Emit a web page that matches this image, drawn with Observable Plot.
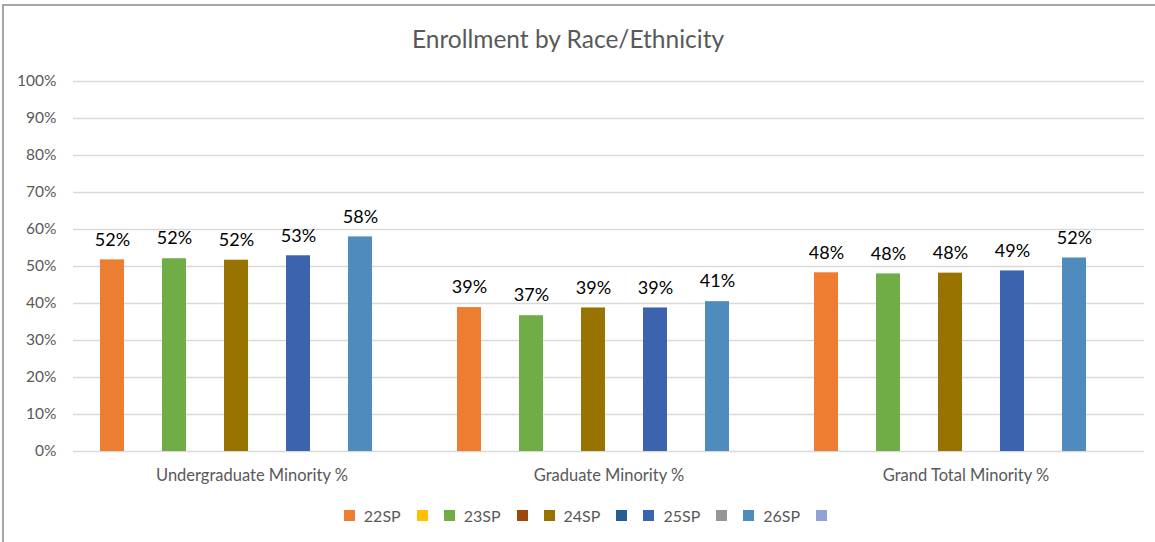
<!DOCTYPE html>
<html>
<head>
<meta charset="utf-8">
<script src="https://cdn.jsdelivr.net/npm/d3@7"></script>
<script src="https://cdn.jsdelivr.net/npm/@observablehq/plot@0.6"></script>
<style>
  body { margin: 0; background: #fff; font-family: Lato, "Open Sans", sans-serif; }
  #chart { position: relative; width: 1155px; height: 542px; overflow: hidden; background: #fff; }
  #frame { position: absolute; left: 2px; top: 4px; width: 1200px; height: 600px;
           border-top: 2px solid #a6a6a6; border-left: 2px solid #a6a6a6; box-sizing: border-box; }
  #title { position: absolute; top: 24px; left: 0; width: 1136px; text-align: center;
           font-size: 24.5px; color: #595959; }
  #plot { position: absolute; left: 0; top: 0; }
  #legend { position: absolute; top: 506px; left: 8px; width: 1155px; display: flex;
            justify-content: center; align-items: center; gap: 16px; font-size: 16px; color: #595959; }
  .item { display: flex; align-items: center; gap: 9px; }
  .sw { width: 11px; height: 11px; display: inline-block; }
</style>
</head>
<body>
<div id="chart">
  <div id="frame"></div>
  <div id="title">Enrollment by Race/Ethnicity</div>
  <div id="plot"></div>
  <div id="legend"></div>
</div>
<script>
// ---- data ----
const categories = ["Undergraduate Minority %", "Graduate Minority %", "Grand Total Minority %"];
const seriesLabels = ["22SP", "", "23SP", "", "24SP", "", "25SP", "", "26SP", ""];
const seriesColors = ["#ED7D31", "#FFC000", "#70AD47", "#9E480E", "#997300", "#255E91", "#3C64AE", "#969696", "#508BBE", "#8FA3D5"];
const values22SP = [51.8, 38.9, 48.3];
const values23SP = [52.1, 36.7, 48.0];
const values24SP = [51.7, 38.8, 48.2];
const values25SP = [52.9, 38.8, 48.8];
const values26SP = [58.0, 40.5, 52.3];
const yTicks = [0, 10, 20, 30, 40, 50, 60, 70, 80, 90, 100];

// series index -> values (blank series carry no data)
const seriesValues = { 0: values22SP, 2: values23SP, 4: values24SP, 6: values25SP, 8: values26SP };
const rows = [];
for (const [s, vals] of Object.entries(seriesValues)) {
  vals.forEach((v, i) => rows.push({ cat: categories[i], s: +s, v }));
}

const plot = Plot.plot({
  width: 1155,
  height: 490,
  marginLeft: 73,
  marginRight: 11,
  marginTop: 81,
  marginBottom: 39,
  style: { fontFamily: "Lato, 'Open Sans', sans-serif", fontSize: "15.5px", color: "#595959", background: "transparent" },
  fx: { domain: categories, padding: 0, label: null, axis: null },
  x: { domain: d3.range(seriesLabels.length), paddingInner: 0.226, paddingOuter: 0.866, axis: null },
  y: { domain: [0, 100], ticks: yTicks, tickFormat: d => d + "%", tickSize: 0, tickPadding: 17, label: null },
  color: { domain: d3.range(seriesLabels.length), range: seriesColors },
  marks: [
    Plot.gridY(yTicks, { stroke: "#d9d9d9", strokeOpacity: 1, strokeWidth: 1.3 }),
    Plot.barY(rows, { fx: "cat", x: "s", y: "v", fill: "s" }),
    Plot.text(rows, { fx: "cat", x: "s", y: "v", text: d => Math.round(d.v) + "%", dy: -20, fontSize: 18, fill: "#000" }),
    Plot.axisFx({ anchor: "bottom", tickSize: 0, tickPadding: 18, fontSize: 16.5, label: null })
  ]
});
document.getElementById("plot").appendChild(plot);

// legend
const legend = document.getElementById("legend");
seriesLabels.forEach((lab, i) => {
  const item = document.createElement("div");
  item.className = "item";
  const sw = document.createElement("span");
  sw.className = "sw";
  sw.style.background = seriesColors[i];
  item.appendChild(sw);
  if (lab) {
    const t = document.createElement("span");
    t.textContent = lab;
    item.appendChild(t);
  }
  legend.appendChild(item);
});
</script>
</body>
</html>
